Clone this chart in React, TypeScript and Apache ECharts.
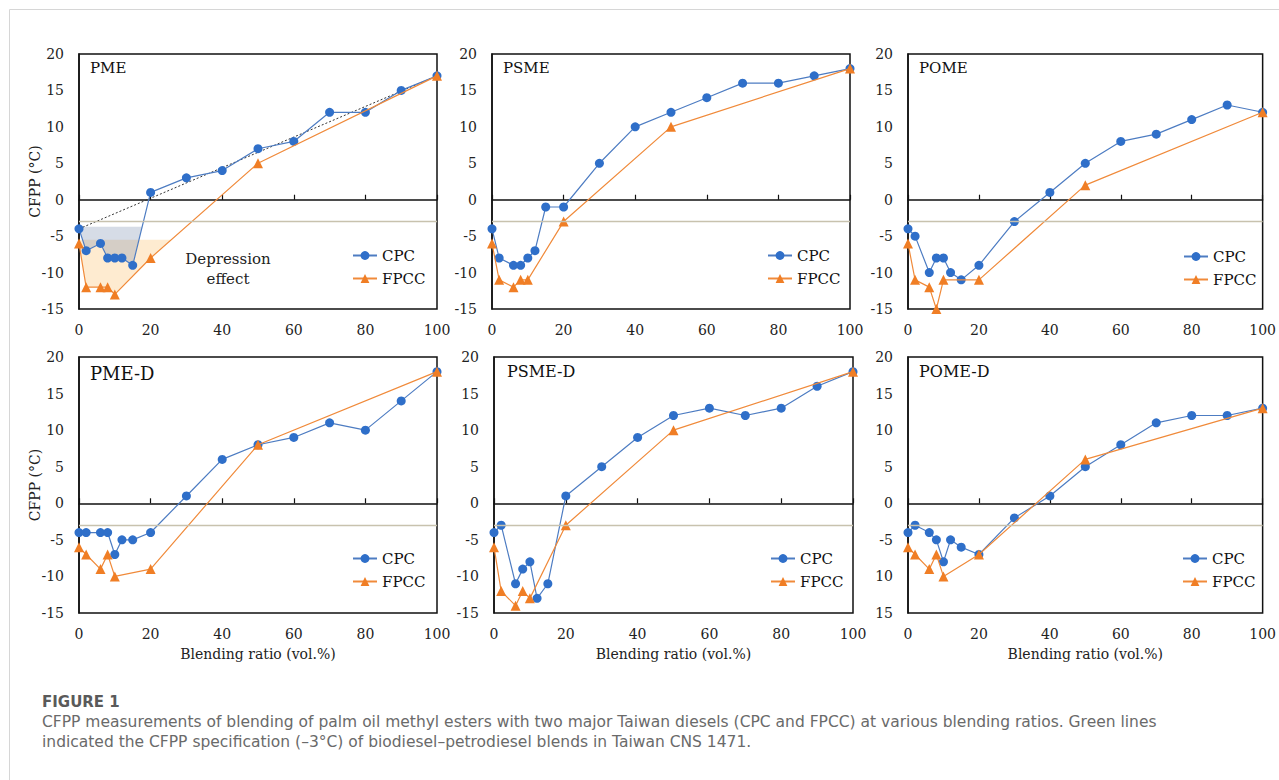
import React, { useEffect, useRef } from "react";
import * as echarts from "echarts";

// Blending ratios (vol.%)
const ratioCPC = [0, 2, 6, 8, 10, 12, 15, 20, 30, 40, 50, 60, 70, 80, 90, 100];
const ratioFPCC = [0, 2, 6, 8, 10, 20, 50, 100];

// CFPP values (°C)
const pmeCPC = [-4, -7, -6, -8, -8, -8, -9, 1, 3, 4, 7, 8, 12, 12, 15, 17];
const pmeFPCC = [-6, -12, -12, -12, -13, -8, 5, 17];
const psmeCPC = [-4, -8, -9, -9, -8, -7, -1, -1, 5, 10, 12, 14, 16, 16, 17, 18];
const psmeFPCC = [-6, -11, -12, -11, -11, -3, 10, 18];
const pomeCPC = [-4, -5, -10, -8, -8, -10, -11, -9, -3, 1, 5, 8, 9, 11, 13, 12];
const pomeFPCC = [-6, -11, -12, -15, -11, -11, 2, 12];
const pmeDCPC = [-4, -4, -4, -4, -7, -5, -5, -4, 1, 6, 8, 9, 11, 10, 14, 18];
const pmeDFPCC = [-6, -7, -9, -7, -10, -9, 8, 18];
const psmeDCPC = [-4, -3, -11, -9, -8, -13, -11, 1, 5, 9, 12, 13, 12, 13, 16, 18];
const psmeDFPCC = [-6, -12, -14, -12, -13, -3, 10, 18];
const pomeDCPC = [-4, -3, -4, -5, -8, -5, -6, -7, -2, 1, 5, 8, 11, 12, 12, 13];
const pomeDFPCC = [-6, -7, -9, -7, -10, -7, 6, 13];

// Specification line and PME annotations
const specCFPP = -3;
const pmeTrend = [[0, -4], [100, 17]];
const depressionCPC = [[0, -3.7], [0, -4], [2, -7], [6, -6], [8, -8], [10, -8], [12, -8], [15, -9], [17.6, -3.7]];
const depressionFPCC = [[0, -5.5], [0, -6], [2, -12], [6, -12], [8, -12], [10, -13], [20, -8], [25.8, -5.5]];

const SERIF = "DejaVu Serif";
const SANS = "DejaVu Sans";
const BLUE = "#2f6fc9";
const BLUE_LINE = "#4d7cc2";
const ORANGE = "#f07e25";
const ORANGE_LINE = "#f08a3a";
const SPEC = "#c8c2ae";

const panels = [
  { label: "PME", cpc: pmeCPC, fpcc: pmeFPCC, grid: { left: 79, top: 54, width: 358, height: 255 }, legend: { left: 347, top: 243 }, labelPos: [90, 68], labelSize: 15, yName: true, xName: false, dropMinus: false },
  { label: "PSME", cpc: psmeCPC, fpcc: psmeFPCC, grid: { left: 492, top: 54, width: 358, height: 255 }, legend: { left: 762, top: 243 }, labelPos: [503, 68], labelSize: 15, yName: false, xName: false, dropMinus: false },
  { label: "POME", cpc: pomeCPC, fpcc: pomeFPCC, grid: { left: 908, top: 54, width: 358, height: 255 }, legend: { left: 1178, top: 244 }, labelPos: [919, 68], labelSize: 15, yName: false, xName: false, dropMinus: false },
  { label: "PME-D", cpc: pmeDCPC, fpcc: pmeDFPCC, grid: { left: 79, top: 357, width: 358, height: 256 }, legend: { left: 347, top: 546 }, labelPos: [90, 373], labelSize: 18, yName: true, xName: true, dropMinus: false },
  { label: "PSME-D", cpc: psmeDCPC, fpcc: psmeDFPCC, grid: { left: 494, top: 357, width: 359, height: 256 }, legend: { left: 765, top: 546 }, labelPos: [507, 371], labelSize: 16, yName: false, xName: true, dropMinus: false },
  { label: "POME-D", cpc: pomeDCPC, fpcc: pomeDFPCC, grid: { left: 908, top: 357, width: 358, height: 256 }, legend: { left: 1177, top: 546 }, labelPos: [919, 371], labelSize: 16, yName: false, xName: true, dropMinus: true },
];

function buildOption() {
  const grids: any[] = [];
  const xAxes: any[] = [];
  const yAxes: any[] = [];
  const series: any[] = [];
  const legends: any[] = [];
  const graphics: any[] = [];

  panels.forEach((p, i) => {
    grids.push({ ...p.grid, show: true, borderColor: "#111", borderWidth: 1.5, containLabel: false });
    xAxes.push({
      gridIndex: i,
      type: "value",
      min: 0,
      max: 100,
      interval: 20,
      axisLine: { show: true, lineStyle: { color: "#111", width: 1.5 } },
      axisTick: { show: true, inside: true, length: 5, lineStyle: { color: "#111", width: 1.2 } },
      splitLine: { show: false },
      axisLabel: { color: "#222", fontFamily: SERIF, fontSize: 14, margin: 14 },
      name: p.xName ? "Blending ratio (vol.%)" : "",
      nameLocation: "middle",
      nameGap: 34,
      nameTextStyle: { color: "#222", fontFamily: SERIF, fontSize: 14 },
    });
    yAxes.push({
      gridIndex: i,
      type: "value",
      min: -15,
      max: 20,
      interval: 5,
      axisLine: { show: true, lineStyle: { color: "#111", width: 1.5 } },
      axisTick: { show: false },
      splitLine: { show: false },
      axisLabel: {
        color: "#222",
        fontFamily: SERIF,
        fontSize: 14,
        margin: 15,
        formatter: (v: number) => (p.dropMinus && v <= -10 ? String(-v) : String(v)),
      },
    });

    if (p.yName) {
      graphics.push({
        type: "text",
        x: 35,
        y: p.grid.top + p.grid.height / 2,
        rotation: Math.PI / 2,
        style: { text: "CFPP (°C)", fill: "#222", fontFamily: SERIF, fontSize: 14, align: "center", verticalAlign: "middle" },
      });
    }

    if (i === 0) {
      const poly = (pts: number[][], color: string) => ({
        type: "custom",
        xAxisIndex: i,
        yAxisIndex: i,
        silent: true,
        z: 1,
        data: [[0, 0]],
        renderItem: (_params: any, api: any) => ({
          type: "polygon",
          shape: { points: pts.map((q) => api.coord(q)) },
          style: { fill: color },
        }),
      });
      series.push(poly(depressionFPCC, "rgba(252,210,150,0.45)"));
      series.push(poly(depressionCPC, "rgba(130,150,180,0.33)"));
      series.push({
        type: "line",
        name: "trend",
        xAxisIndex: i,
        yAxisIndex: i,
        data: pmeTrend,
        symbol: "none",
        silent: true,
        z: 2,
        lineStyle: { color: "#333", width: 1, type: [2, 2] },
      });
    }

    series.push({
      type: "line",
      name: "CPC",
      xAxisIndex: i,
      yAxisIndex: i,
      data: ratioCPC.map((x, j) => [x, p.cpc[j]]),
      symbol: "circle",
      symbolSize: 9,
      z: 3,
      itemStyle: { color: BLUE },
      lineStyle: { color: BLUE_LINE, width: 1.2 },
      markLine: {
        silent: true,
        symbol: ["none", "none"],
        label: { show: false },
        lineStyle: { color: SPEC, width: 1.3, type: "solid" },
        data: [{ yAxis: specCFPP }],
      },
    });
    series.push({
      type: "line",
      name: "FPCC",
      xAxisIndex: i,
      yAxisIndex: i,
      data: ratioFPCC.map((x, j) => [x, p.fpcc[j]]),
      symbol: "triangle",
      symbolSize: 10,
      z: 4,
      itemStyle: { color: ORANGE },
      lineStyle: { color: ORANGE_LINE, width: 1.2 },
    });

    legends.push({
      data: ["CPC", "FPCC"],
      orient: "vertical",
      left: p.legend.left,
      top: p.legend.top,
      itemWidth: 24,
      itemHeight: 11,
      itemGap: 8,
      selectedMode: false,
      textStyle: { color: "#111", fontFamily: SERIF, fontSize: 15 },
    });

    graphics.push({
      type: "text",
      x: p.labelPos[0],
      y: p.labelPos[1],
      style: { text: p.label, fill: "#111", fontFamily: SERIF, fontSize: p.labelSize, verticalAlign: "middle" },
    });
  });

  graphics.push(
    { type: "line", shape: { x1: 9.5, y1: 9.5, x2: 1279, y2: 9.5 }, style: { stroke: "#d6d6d6", lineWidth: 1 } },
    { type: "line", shape: { x1: 9.5, y1: 9.5, x2: 9.5, y2: 780 }, style: { stroke: "#d6d6d6", lineWidth: 1 } },
    { type: "text", x: 228, y: 259, style: { text: "Depression", fill: "#222", fontFamily: SERIF, fontSize: 15, align: "center", verticalAlign: "middle" } },
    { type: "text", x: 228, y: 279, style: { text: "effect", fill: "#222", fontFamily: SERIF, fontSize: 15, align: "center", verticalAlign: "middle" } },
    { type: "text", x: 42, y: 702, style: { text: "FIGURE 1", fill: "#5a5a5a", fontFamily: SANS, fontWeight: "bold", fontSize: 15, verticalAlign: "middle" } },
    {
      type: "text",
      x: 42,
      y: 722,
      style: {
        text: "CFPP measurements of blending of palm oil methyl esters with two major Taiwan diesels (CPC and FPCC) at various blending ratios. Green lines",
        fill: "#6a6a6a",
        fontFamily: SANS,
        fontSize: 15.5,
        verticalAlign: "middle",
      },
    },
    {
      type: "text",
      x: 42,
      y: 742,
      style: {
        text: "indicated the CFPP specification (–3°C) of biodiesel–petrodiesel blends in Taiwan CNS 1471.",
        fill: "#6a6a6a",
        fontFamily: SANS,
        fontSize: 15.5,
        verticalAlign: "middle",
      },
    }
  );

  return {
    animation: false,
    backgroundColor: "#fff",
    textStyle: { fontFamily: SERIF },
    grid: grids,
    xAxis: xAxes,
    yAxis: yAxes,
    legend: legends,
    series,
    graphic: graphics,
  };
}

export default function App() {
  const ref = useRef<HTMLDivElement>(null);
  useEffect(() => {
    if (!ref.current) return;
    const chart = echarts.init(ref.current, null, { renderer: "svg" });
    chart.setOption(buildOption() as any);
    return () => chart.dispose();
  }, []);
  return (
    <div
      ref={ref}
      style={{ position: "absolute", left: 0, top: 0, width: 1279, height: 780, background: "#fff" }}
    />
  );
}
